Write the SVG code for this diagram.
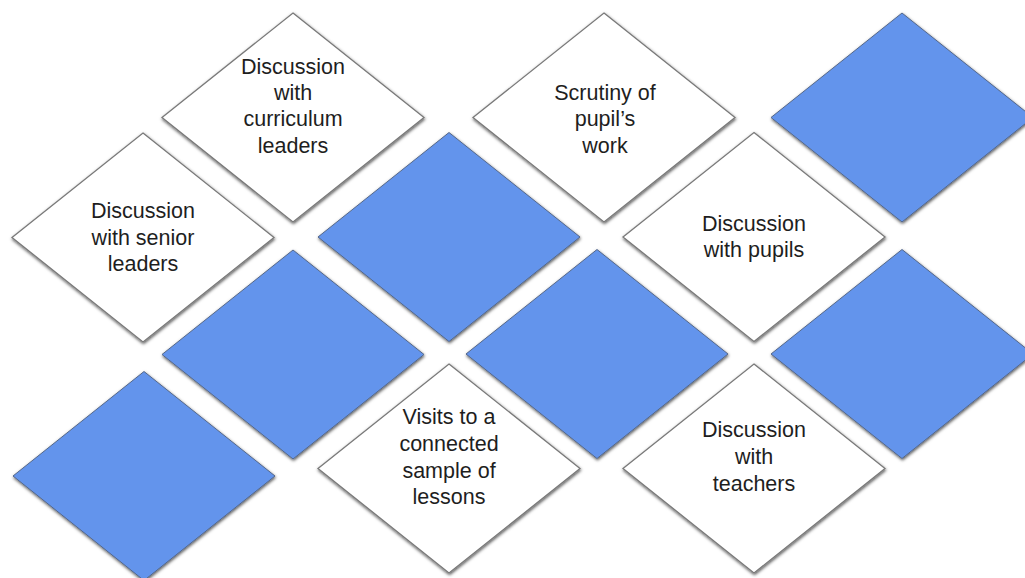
<svg xmlns="http://www.w3.org/2000/svg" xmlns:xlink="http://www.w3.org/1999/xlink" width="1025" height="578" viewBox="0 0 1025 578">
  <style>
    .card { fill: #ffffff; stroke: #7a7a7a; stroke-width: 1.3; filter: url(#shadow); }
    .tile { fill: #6394ec; stroke: #55688a; stroke-width: 1; filter: url(#shadow); }
    .label { font-family: "Liberation Sans", Arial, sans-serif; font-size: 21.5px; fill: #1e1e1e; text-anchor: middle; }
  </style>
  <defs>
    <filter id="shadow" x="-10%" y="-10%" width="120%" height="125%">
      <feDropShadow dx="0.5" dy="1.5" stdDeviation="1.8" flood-color="#000000" flood-opacity="0.65"/>
    </filter>
    <polygon id="diamond" points="0,-104.5 131,0 0,104.5 -131,0"/>
  </defs>
  <rect width="1025" height="578" fill="#ffffff"/>

  <!-- plain blue tiles -->
  <g id="tile-top-right" transform="translate(902,117.5)"><use xlink:href="#diamond" class="tile"/></g>
  <g id="tile-centre-left" transform="translate(449,237)"><use xlink:href="#diamond" class="tile"/></g>
  <g id="tile-mid-1" transform="translate(293,354.5)"><use xlink:href="#diamond" class="tile"/></g>
  <g id="tile-mid-2" transform="translate(597,354)"><use xlink:href="#diamond" class="tile"/></g>
  <g id="tile-mid-3" transform="translate(902,354)"><use xlink:href="#diamond" class="tile"/></g>
  <g id="tile-bottom-left" transform="translate(144,476)"><use xlink:href="#diamond" class="tile"/></g>

  <!-- labelled cards -->
  <g id="curriculum-leaders">
    <use xlink:href="#diamond" class="card" transform="translate(293,117.5)"/>
    <text class="label" x="293" y="74">Discussion</text>
    <text class="label" x="293" y="100">with</text>
    <text class="label" x="293" y="126">curriculum</text>
    <text class="label" x="293" y="152.5">leaders</text>
  </g>
  <g id="senior-leaders">
    <use xlink:href="#diamond" class="card" transform="translate(143,237.5)"/>
    <text class="label" x="143" y="218">Discussion</text>
    <text class="label" x="143" y="244.5">with senior</text>
    <text class="label" x="143" y="271">leaders</text>
  </g>
  <g id="pupils-work">
    <use xlink:href="#diamond" class="card" transform="translate(604,117.5)"/>
    <text class="label" x="605" y="99.5">Scrutiny of</text>
    <text class="label" x="605" y="126">pupil’s</text>
    <text class="label" x="605" y="152.5">work</text>
  </g>
  <g id="pupils">
    <use xlink:href="#diamond" class="card" transform="translate(754,237)"/>
    <text class="label" x="754" y="231">Discussion</text>
    <text class="label" x="754" y="257">with pupils</text>
  </g>
  <g id="lessons">
    <use xlink:href="#diamond" class="card" transform="translate(449,468.5)"/>
    <text class="label" x="449" y="424">Visits to a</text>
    <text class="label" x="449" y="451">connected</text>
    <text class="label" x="449" y="477.5">sample of</text>
    <text class="label" x="449" y="503.5">lessons</text>
  </g>
  <g id="teachers">
    <use xlink:href="#diamond" class="card" transform="translate(754,468.5)"/>
    <text class="label" x="754" y="437">Discussion</text>
    <text class="label" x="754" y="464">with</text>
    <text class="label" x="754" y="490.5">teachers</text>
  </g>

  <g id="connectors"/>
</svg>
